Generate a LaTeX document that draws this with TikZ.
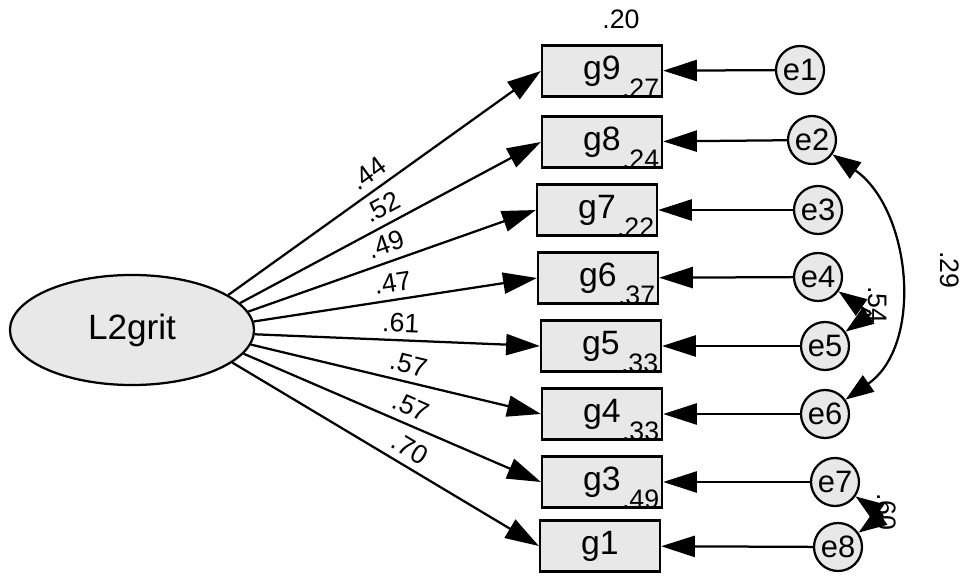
\documentclass[tikz,border=0pt]{standalone}
\usepackage{fontspec}
\setmainfont{Liberation Sans}
\usetikzlibrary{shapes.geometric,arrows.meta}

\begin{document}
\begin{tikzpicture}[x=0.025cm,y=-0.025cm,line width=1.6pt,
    obs/.style={draw,fill=black!9,minimum width=3cm,minimum height=1.275cm,inner sep=0pt,font=\fontsize{24}{28}\selectfont},
    err/.style={draw,circle,fill=black!9,minimum size=1.2cm,inner sep=0pt,font=\fontsize{22}{26}\selectfont},
    lat/.style={draw,ellipse,fill=black!9,minimum width=6.1cm,minimum height=2.75cm,font=\fontsize{25}{30}\selectfont},
    coef/.style={font=\fontsize{19}{22}\selectfont,inner sep=1pt},
    arr/.style={-{Triangle[length=24pt,width=15pt]}},
    cov/.style={{Triangle[length=20pt,width=14pt]}-{Triangle[length=20pt,width=14pt]}}]
    \useasboundingbox (0,0) rectangle (975,584);
    \node[lat] (L) at (132,330) {L2grit};
    % items and their errors
    \foreach \g/\e/\x/\y/\ex/\ey in {g9/e1/602/71/800/70, g8/e2/602/142/812/140,
        g7/e3/597/210/818/210, g6/e4/598/278/818/277, g5/e5/601/346/825/346,
        g4/e6/602/414/825/414, g3/e7/602/482/835/482, g1/e8/600/546/838/547}{
      \node[obs] (\g) at (\x,\y) {\g};
      \node[err] (\e) at (\ex,\ey) {\e};
      \draw[arr] (\e) -- (\g);
    }
    % loadings
    \foreach \g/\a/\w/\p in {g9/20/.44/0.48, g8/14/.52/0.5, g7/9/.49/0.5, g6/4/.47/0.5,
        g5/-2/.61/0.51, g4/-7/.57/0.53, g3/-12/.57/0.54, g1/-18/.70/0.55}{
      \draw[arr] (L.\a) -- node[coef,sloped,above=4pt,pos=\p] {\w} (\g.west);
    }
    % squared multiple correlations
    \node[coef,anchor=south east] (r20) at ([xshift=-15pt,yshift=9pt]g9.north east) {.20};
    \foreach \g/\r in {g9/.27, g8/.24, g7/.22, g6/.37, g5/.33, g4/.33, g3/.49}{
      \node[coef,anchor=south east] (r\g) at ([xshift=-1pt,yshift=-2pt]\g.south east) {\r};
    }
    % error covariances
    \draw[cov] (e2) to[out=-35,in=35,looseness=1] (e6);
    \draw[cov] (e4) to[out=-35,in=35,looseness=2.2] (e5);
    \draw[cov] (e7) to[out=-35,in=35,looseness=2.2] (e8);
    \node[coef,rotate=-90] (c26) at (950,270) {.29};
    \node[coef,rotate=-90] (c45) at (878,305) {.54};
    \node[coef,rotate=-90] (c78) at (887,512) {.60};
\end{tikzpicture}
\end{document}
